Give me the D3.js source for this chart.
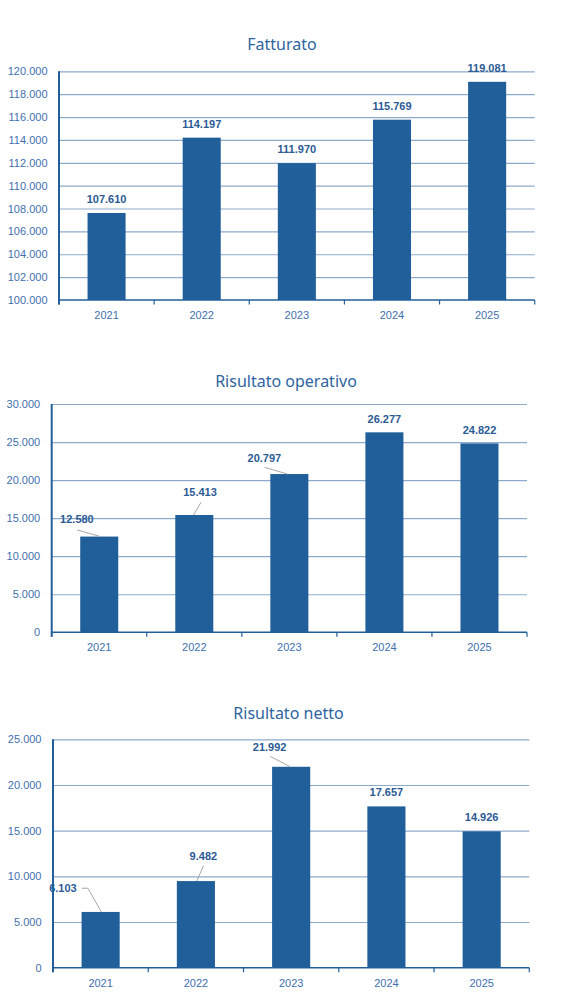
<!DOCTYPE html>
<html>
<head>
<meta charset="utf-8">
<script src="https://cdn.jsdelivr.net/npm/d3@7"></script>
<style>
  body { margin: 0; background: #fff; }
  svg { display: block; }
</style>
</head>
<body>
<script>
// dati (migliaia di euro)
const years = ['2021', '2022', '2023', '2024', '2025'];
const fatturato = [107610, 114197, 111970, 115769, 119081];
const risultatoOperativo = [12580, 15413, 20797, 26277, 24822];
const risultatoNetto = [6103, 9482, 21992, 17657, 14926];

const ticksFatturato = [100000, 102000, 104000, 106000, 108000, 110000, 112000, 114000, 116000, 118000, 120000];
const ticksOperativo = [0, 5000, 10000, 15000, 20000, 25000, 30000];
const ticksNetto = [0, 5000, 10000, 15000, 20000, 25000];

const titles = ['Fatturato', 'Risultato operativo', 'Risultato netto'];

// impaginazione di ogni grafico
const charts = [
  { title: titles[0], values: fatturato, ticks: ticksFatturato,
    left: 59, right: 534.7, top: 71.3, bottom: 300, titleX: 282, titleY: 49.5,
    // etichette: offset dal centro/cima della barra, eventuale linea guida
    labels: [
      { dx: 0, dy: -13.5 }, { dx: 0, dy: -13.5 }, { dx: 0, dy: -13.5 },
      { dx: 0, dy: -13.5 }, { dx: 0, dy: -14 }
    ] },
  { title: titles[1], values: risultatoOperativo, ticks: ticksOperativo,
    left: 51.7, right: 527, top: 404, bottom: 632.3, titleX: 286, titleY: 386.5,
    labels: [
      { dx: -22.3, dy: -17, lead: [[-22, -6.7], [1, 0]] },
      { dx: 5.7, dy: -23, lead: [[6.7, -12.7], [-0.7, 0]] },
      { dx: -25, dy: -15.7, lead: [[-24.7, -6.7], [-2, 0]] },
      { dx: 0, dy: -13.5 }, { dx: 0, dy: -13 }
    ] },
  { title: titles[2], values: risultatoNetto, ticks: ticksNetto,
    left: 53, right: 529.3, top: 739.3, bottom: 967.7, titleX: 288.5, titleY: 719,
    labels: [
      { dx: -37.7, dy: -23.7, lead: [[-18.7, -23.7], [-12.7, -23.7], [0.7, 0]] },
      { dx: 7.5, dy: -25, lead: [[7.5, -15.3], [0.9, 0]] },
      { dx: -21.5, dy: -20, lead: [[-20.8, -10.3], [-0.8, 0]] },
      { dx: 0, dy: -14 }, { dx: 0, dy: -14 }
    ] }
];

const it = d3.formatLocale({ decimal: ',', thousands: '.', grouping: [3], currency: ['€', ''] });
const fmt = it.format(',d');

const barColor = '#215f9a';
const axisColor = '#215f9a';
const gridColor = '#8eaacb';
const tickText = '#3f6fae';
const valueText = '#2b5a94';
const titleColor = '#2e64a0';
const numFont = '"Liberation Sans", Arial, sans-serif';

const svg = d3.select('body')
  .append('svg')
  .attr('width', 579)
  .attr('height', 1006);

charts.forEach(c => {
  const g = svg.append('g');

  const x = d3.scaleBand()
    .domain(years)
    .range([c.left, c.right])
    .paddingInner(0.6)
    .paddingOuter(0.3);

  const y = d3.scaleLinear()
    .domain([c.ticks[0], c.ticks[c.ticks.length - 1]])
    .range([c.bottom, c.top]);

  // titolo
  g.append('text')
    .attr('x', c.titleX)
    .attr('y', c.titleY)
    .attr('text-anchor', 'middle')
    .attr('font-family', '"Noto Sans", "Open Sans", sans-serif')
    .attr('font-size', 16)
    .attr('fill', titleColor)
    .text(c.title);

  // griglia
  g.append('g')
    .attr('transform', `translate(${c.left},0)`)
    .call(d3.axisLeft(y).tickValues(c.ticks.slice(1)).tickSize(-(c.right - c.left)).tickFormat(''))
    .call(s => s.select('.domain').remove())
    .call(s => s.selectAll('.tick line').attr('stroke', gridColor).attr('stroke-width', 1.2));

  // etichette asse y
  g.append('g')
    .attr('transform', `translate(${c.left - 11.5},0)`)
    .call(d3.axisLeft(y).tickValues(c.ticks).tickSize(0).tickPadding(0).tickFormat(fmt))
    .call(s => s.select('.domain').remove())
    .call(s => s.selectAll('.tick text')
      .attr('font-family', numFont)
      .attr('font-size', 11)
      .attr('fill', tickText));

  // barre
  g.selectAll('rect.bar')
    .data(c.values)
    .enter()
    .append('rect')
    .attr('class', 'bar')
    .attr('x', (d, i) => x(years[i]))
    .attr('y', d => y(d))
    .attr('width', x.bandwidth())
    .attr('height', d => c.bottom - y(d))
    .attr('fill', barColor);

  // linee guida delle etichette
  g.selectAll('path.lead')
    .data(c.values.map((v, i) => ({ v, i, l: c.labels[i] })).filter(d => d.l.lead))
    .enter()
    .append('path')
    .attr('class', 'lead')
    .attr('d', d => {
      const cx = x(years[d.i]) + x.bandwidth() / 2;
      const cy = y(d.v);
      return d3.line()(d.l.lead.map(p => [cx + p[0], cy + p[1]]));
    })
    .attr('fill', 'none')
    .attr('stroke', '#a6a6a6')
    .attr('stroke-width', 1);

  // valori
  g.selectAll('text.val')
    .data(c.values)
    .enter()
    .append('text')
    .attr('class', 'val')
    .attr('x', (d, i) => x(years[i]) + x.bandwidth() / 2 + c.labels[i].dx)
    .attr('y', (d, i) => y(d) + c.labels[i].dy)
    .attr('dy', '0.35em')
    .attr('text-anchor', 'middle')
    .attr('font-family', numFont)
    .attr('font-weight', 'bold')
    .attr('font-size', 11)
    .attr('fill', valueText)
    .text(d => fmt(d));

  // asse x
  const step = x.step();
  const bounds = d3.range(years.length + 1).map(i => c.left + i * step);
  g.append('line')
    .attr('x1', c.left).attr('x2', c.right)
    .attr('y1', c.bottom).attr('y2', c.bottom)
    .attr('stroke', axisColor).attr('stroke-width', 1.5);
  g.selectAll('line.xt')
    .data(bounds)
    .enter()
    .append('line')
    .attr('class', 'xt')
    .attr('x1', d => d).attr('x2', d => d)
    .attr('y1', c.bottom).attr('y2', c.bottom + 4.5)
    .attr('stroke', axisColor).attr('stroke-width', 1.2);

  g.selectAll('text.cat')
    .data(years)
    .enter()
    .append('text')
    .attr('class', 'cat')
    .attr('x', d => x(d) + x.bandwidth() / 2)
    .attr('y', c.bottom + 15)
    .attr('dy', '0.35em')
    .attr('text-anchor', 'middle')
    .attr('font-family', numFont)
    .attr('font-size', 11)
    .attr('fill', tickText)
    .text(d => d);

  // asse y
  g.append('line')
    .attr('x1', c.left).attr('x2', c.left)
    .attr('y1', c.top).attr('y2', c.bottom + 4.5)
    .attr('stroke', axisColor).attr('stroke-width', 2);
});
</script>
</body>
</html>
